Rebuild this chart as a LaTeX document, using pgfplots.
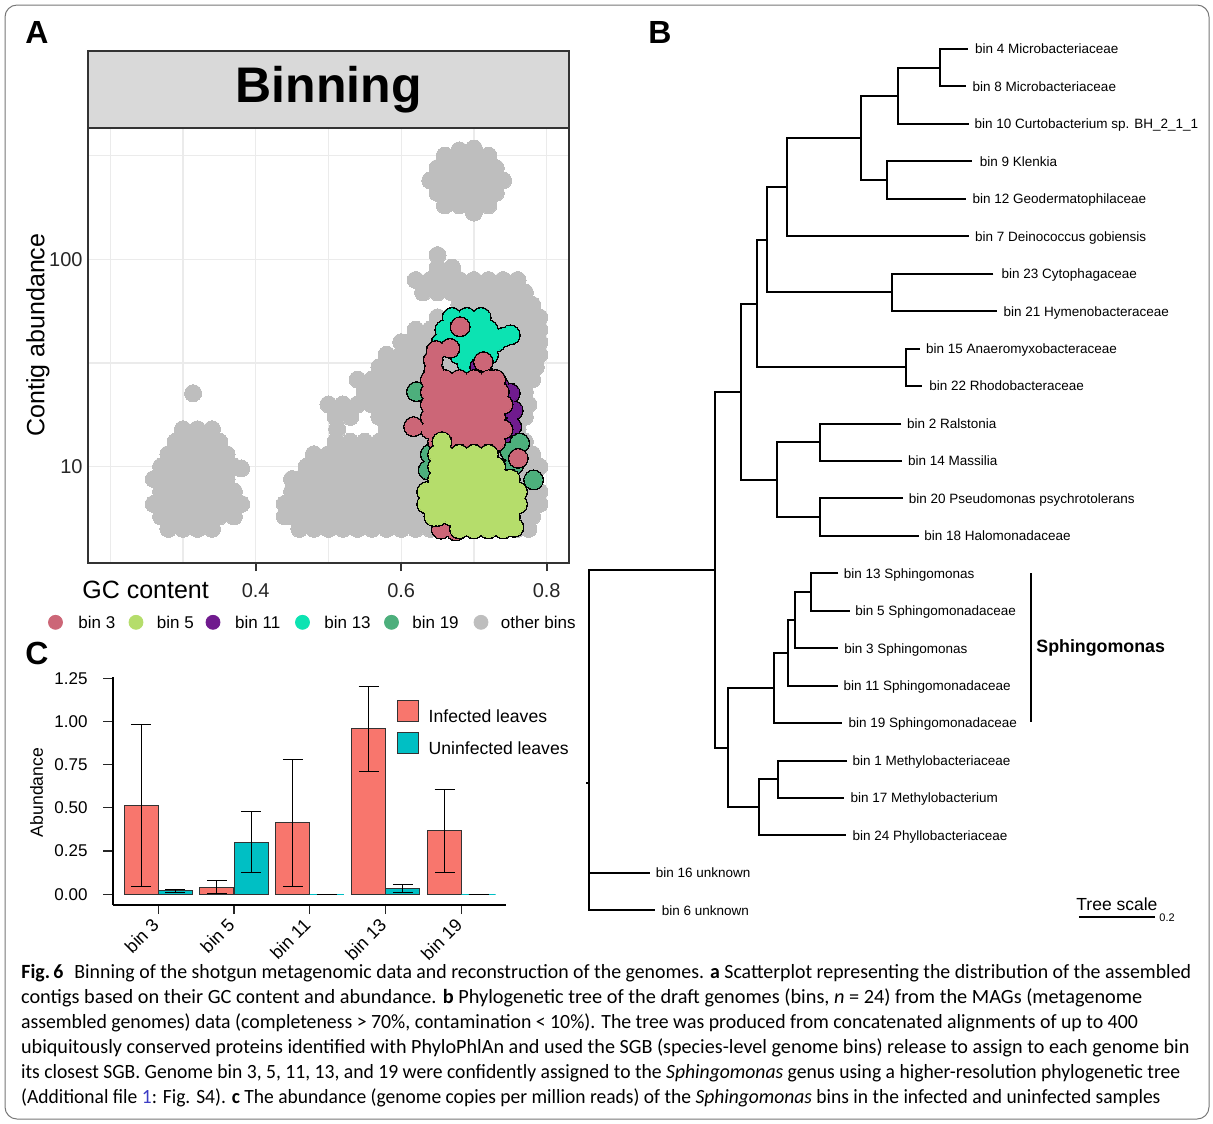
\documentclass[border=0pt]{standalone}
\usepackage{fontspec}
\setmainfont{Liberation Sans}
\newfontfamily\capfont{Carlito}
\usepackage{pgfplots}
\pgfplotsset{compat=1.18}
\definecolor{cthree}{HTML}{CC6677}
\definecolor{cfive}{HTML}{B5DD6B}
\definecolor{celeven}{HTML}{701B8E}
\definecolor{cthirteen}{HTML}{0CE3B2}
\definecolor{cnineteen}{HTML}{4DAF7C}
\definecolor{cgray}{HTML}{BEBEBE}
\definecolor{axgray}{HTML}{333333}
\definecolor{gridgray}{HTML}{EBEBEB}
\definecolor{stripgray}{HTML}{D9D9D9}
\definecolor{cinf}{HTML}{F8766D}
\definecolor{cuninf}{HTML}{00BFC4}
\definecolor{framegray}{HTML}{777777}
\definecolor{linkblue}{HTML}{3B3BC4}
\newcommand{\cluster}[2]{%
 \addplot[only marks, mark=*, mark size=5.0pt, mark options={fill=black, draw=black, line width=0pt}] coordinates {#2};
 \addplot[only marks, mark=*, mark size=4.3pt, mark options={fill=#1, draw=#1, line width=0pt}] coordinates {#2};
}
\newcommand{\treefont}{\fontsize{6.75}{8}\selectfont}
\newcommand{\legfont}{\fontsize{8.5}{10}\selectfont}
\newcommand{\cf}{\capfont\fontsize{10.1}{12}\selectfont}
\pgfplotsset{mylegbox/.style={legend image code/.code={\draw[##1, line width=0.5pt] (0pt,-2.2pt) rectangle (10.5pt,8.3pt);}}}
\begin{document}
\begin{tikzpicture}
%% ---------------- overlay (tree, labels, caption) ----------------
\begin{axis}[at={(0pt,0pt)}, anchor=north west, scale only axis,
  width=606.5pt, height=561.5pt, xmin=0, xmax=1213, ymin=0, ymax=1123,
  y dir=reverse, hide axis, clip=false]
\draw[framegray, line width=0.5pt, rounded corners=6pt] (5,5) rectangle (1209,1119);
% strip of panel A
\draw[fill=stripgray, draw=axgray, line width=1pt] (88,51) rectangle (569,128);
\node[anchor=base, inner sep=0pt, font=\fontsize{25}{30}\selectfont\bfseries] at (328.5,102) {Binning};
% panel letters
\node[anchor=base west, inner sep=0pt, font=\fontsize{16}{18}\selectfont\bfseries] at (25,43) {A};
\node[anchor=base west, inner sep=0pt, font=\fontsize{16}{18}\selectfont\bfseries] at (648,43) {B};
\node[anchor=base west, inner sep=0pt, font=\fontsize{16}{18}\selectfont\bfseries] at (25,664) {C};
% panel A labels
\node[anchor=base west, inner sep=0pt, font=\fontsize{12.5}{14}\selectfont] at (82,598.3) {GC content};
\node[rotate=90, inner sep=0pt, font=\fontsize{12.5}{14}\selectfont] at (38,335) {Contig abundance};
% panel A legend
\addplot[only marks, mark=*, mark size=3.5pt, color=cthree] coordinates {(55.5,622.3)};
\addplot[only marks, mark=*, mark size=3.5pt, color=cfive] coordinates {(136,622.3)};
\addplot[only marks, mark=*, mark size=3.5pt, color=celeven] coordinates {(213,622.3)};
\addplot[only marks, mark=*, mark size=3.5pt, color=cthirteen] coordinates {(302.5,622.3)};
\addplot[only marks, mark=*, mark size=3.5pt, color=cnineteen] coordinates {(391.5,622.3)};
\addplot[only marks, mark=*, mark size=3.5pt, color=cgray] coordinates {(481,622.3)};
\node[anchor=base west, inner sep=0pt, font=\legfont] at (78,628.3) {bin 3};
\node[anchor=base west, inner sep=0pt, font=\legfont] at (156.5,628.3) {bin 5};
\node[anchor=base west, inner sep=0pt, font=\legfont] at (234.8,628.3) {bin 11};
\node[anchor=base west, inner sep=0pt, font=\legfont] at (324,628.3) {bin 13};
\node[anchor=base west, inner sep=0pt, font=\legfont] at (412,628.3) {bin 19};
\node[anchor=base west, inner sep=0pt, font=\legfont] at (500.5,628.3) {other bins};
% panel C y label
\node[rotate=90, inner sep=0pt, font=\fontsize{8.8}{10}\selectfont] at (36.5,792.5) {Abundance};
% tree
\addplot[black, line width=1pt, line join=miter, unbounded coords=jump, mark=none] coordinates {
(967.5,49) (939.7,49) (939.7,86.45) (966.3,86.45) (nan,nan)
(939.7,67.73) (898,67.73) (898,123.9) (968.7,123.9) (nan,nan)
(971.5,161.35) (886.8,161.35) (886.8,198.8) (965.5,198.8) (nan,nan)
(898,95.8) (861,95.8) (861,180.08) (886.8,180.08) (nan,nan)
(861,137.94) (786.7,137.94) (786.7,236.25) (968.7,236.25) (nan,nan)
(993.3,273.7) (892,273.7) (892,311.15) (997.3,311.15) (nan,nan)
(786.7,187.1) (766.8,187.1) (766.8,292.43) (892,292.43) (nan,nan)
(919.8,348.6) (905.9,348.6) (905.9,386.05) (921.8,386.05) (nan,nan)
(766.8,239.76) (756.9,239.76) (756.9,367.33) (905.9,367.33) (nan,nan)
(901.3,423.5) (819.8,423.5) (819.8,460.95) (902.3,460.95) (nan,nan)
(903,498.4) (819.8,498.4) (819.8,535.85) (919.2,535.85) (nan,nan)
(819.8,442.2) (777.4,442.2) (777.4,517.1) (819.8,517.1) (nan,nan)
(756.9,303.54) (741,303.54) (741,479.7) (777.4,479.7) (nan,nan)
(838.3,573.3) (810.5,573.3) (810.5,610.75) (849.5,610.75) (nan,nan)
(810.5,592.0) (795.4,592.0) (795.4,648.2) (837.6,648.2) (nan,nan)
(795.4,620.1) (787.5,620.1) (787.5,685.65) (837.6,685.65) (nan,nan)
(787.5,652.9) (773.6,652.9) (773.6,723.1) (842.3,723.1) (nan,nan)
(847.1,760.55) (777.5,760.55) (777.5,798) (844.3,798) (nan,nan)
(777.5,779.3) (758.9,779.3) (758.9,835.45) (846.3,835.45) (nan,nan)
(773.6,688.0) (728.2,688.0) (728.2,807.4) (758.9,807.4) (nan,nan)
(741,391.6) (715.1,391.6) (715.1,747.7) (728.2,747.7) (nan,nan)
(715.1,569.6) (588.7,569.6) (588.7,910.35) (654.7,910.35) (nan,nan)
(588.7,872.9) (649.6,872.9) (nan,nan)
(586,783.3) (588.7,783.3)
};
\addplot[black, line width=1pt, mark=none] coordinates {(1031,573.3) (1031,721.7)};
\addplot[black, line width=1.2pt, mark=none] coordinates {(1078.8,916.7) (1155.1,916.7)};
\node[anchor=base west, inner sep=0pt, font=\fontsize{8.75}{10}\selectfont] at (1076,910) {Tree scale};
\node[anchor=base west, inner sep=0pt, font=\fontsize{5.5}{6}\selectfont] at (1159,921) {0.2};
\node[anchor=base west, inner sep=0pt, font=\fontsize{8.9}{10}\selectfont\bfseries] at (1036,652.4) {Sphingomonas};
% tree labels
\node[anchor=base west, inner sep=0pt, font=\treefont] at (974.7,53.85) {bin 4 Microbacteriaceae};
\node[anchor=base west, inner sep=0pt, font=\treefont] at (972.3,91.3) {bin 8 Microbacteriaceae};
\node[anchor=base west, inner sep=0pt, font=\treefont] at (974.3,128.75) {bin 10 Curtobacterium sp. BH\_2\_1\_1};
\node[anchor=base west, inner sep=0pt, font=\treefont] at (979.4,166.2) {bin 9 Klenkia};
\node[anchor=base west, inner sep=0pt, font=\treefont] at (972.3,203.65) {bin 12 Geodermatophilaceae};
\node[anchor=base west, inner sep=0pt, font=\treefont] at (974.7,241.1) {bin 7 Deinococcus gobiensis};
\node[anchor=base west, inner sep=0pt, font=\treefont] at (1001.3,278.55) {bin 23 Cytophagaceae};
\node[anchor=base west, inner sep=0pt, font=\treefont] at (1003.3,316.0) {bin 21 Hymenobacteraceae};
\node[anchor=base west, inner sep=0pt, font=\treefont] at (925.8,353.45) {bin 15 Anaeromyxobacteraceae};
\node[anchor=base west, inner sep=0pt, font=\treefont] at (929,390.9) {bin 22 Rhodobacteraceae};
\node[anchor=base west, inner sep=0pt, font=\treefont] at (906.6,428.35) {bin 2 Ralstonia};
\node[anchor=base west, inner sep=0pt, font=\treefont] at (907.7,465.8) {bin 14 Massilia};
\node[anchor=base west, inner sep=0pt, font=\treefont] at (908.4,503.25) {bin 20 Pseudomonas psychrotolerans};
\node[anchor=base west, inner sep=0pt, font=\treefont] at (923.9,540.7) {bin 18 Halomonadaceae};
\node[anchor=base west, inner sep=0pt, font=\treefont] at (843.5,578.15) {bin 13 Sphingomonas};
\node[anchor=base west, inner sep=0pt, font=\treefont] at (855,615.6) {bin 5 Sphingomonadaceae};
\node[anchor=base west, inner sep=0pt, font=\treefont] at (843.9,653.05) {bin 3 Sphingomonas};
\node[anchor=base west, inner sep=0pt, font=\treefont] at (843.1,690.5) {bin 11 Sphingomonadaceae};
\node[anchor=base west, inner sep=0pt, font=\treefont] at (848.3,727.95) {bin 19 Sphingomonadaceae};
\node[anchor=base west, inner sep=0pt, font=\treefont] at (852.3,765.4) {bin 1 Methylobacteriaceae};
\node[anchor=base west, inner sep=0pt, font=\treefont] at (850.3,802.85) {bin 17 Methylobacterium};
\node[anchor=base west, inner sep=0pt, font=\treefont] at (852.3,840.3) {bin 24 Phyllobacteriaceae};
\node[anchor=base west, inner sep=0pt, font=\treefont] at (655.5,877.75) {bin 16 unknown};
\node[anchor=base west, inner sep=0pt, font=\treefont] at (661.5,915.2) {bin 6 unknown};
% caption
\node[anchor=base west, inner sep=0pt, font=\cf] at (21,978.3) {\scalebox{0.982}[1]{\textbf{Fig.\,6}\hspace{0.55em}Binning of the shotgun metagenomic data and reconstruction of the genomes. \textbf{a} Scatterplot representing the distribution of the assembled}};
\node[anchor=base west, inner sep=0pt, font=\cf] at (20.7,1003.3) {\scalebox{1.006}[1]{contigs based on their GC content and abundance. \textbf{b} Phylogenetic tree of the draft genomes (bins, \textit{n} = 24) from the MAGs (metagenome}};
\node[anchor=base west, inner sep=0pt, font=\cf] at (20.7,1028.3) {\scalebox{0.98}[1]{assembled genomes) data (completeness > 70\%, contamination < 10\%). The tree was produced from concatenated alignments of up to 400}};
\node[anchor=base west, inner sep=0pt, font=\cf] at (20.7,1053.3) {\scalebox{0.998}[1]{ubiquitously conserved proteins identified with PhyloPhlAn and used the SGB (species-level genome bins) release to assign to each genome bin}};
\node[anchor=base west, inner sep=0pt, font=\cf] at (20.7,1078.3) {\scalebox{0.971}[1]{its closest SGB. Genome bin 3, 5, 11, 13, and 19 were confidently assigned to the \textit{Sphingomonas} genus using a higher-resolution phylogenetic tree}};
\node[anchor=base west, inner sep=0pt, font=\cf] at (20.7,1103.3) {\scalebox{0.966}[1]{(Additional file {\color{linkblue}1}: Fig. S4). \textbf{c} The abundance (genome copies per million reads) of the \textit{Sphingomonas} bins in the infected and uninfected samples}};
\end{axis}
%% ---------------- panel A ----------------
\begin{axis}[at={(44pt,-64pt)}, anchor=north west, scale only axis,
  width=240.5pt, height=217.5pt,
  xmin=0.1695, xmax=0.8307, ymode=log, ymin=3.43, ymax=429.5,
  xtick={0.4,0.6,0.8}, xticklabels={0.4,0.6,0.8},
  minor xtick={0.2,0.3,0.5,0.7},
  ytick={10,100}, yticklabels={10,100}, minor ytick={31.62,316.2},
  grid=both, major grid style={gridgray, line width=0.6pt}, minor grid style={gridgray, line width=0.6pt},
  axis line style={axgray, line width=1pt},
  xtick pos=left, ytick pos=left, tick align=outside,
  major tick length=4pt, minor tick length=0pt,
  xtick style={axgray, line width=1pt}, ytick style={draw=none},
  ticklabel style={font=\fontsize{10}{12}\selectfont, text=black!85},
  xticklabel style={yshift=-2.6pt}, yticklabel style={xshift=4.8pt},
  /pgf/number format/assume math mode=true]
\addplot[only marks, mark=*, mark size=4.25pt, color=cgray, mark options={fill=cgray, draw=cgray, line width=0pt}] coordinates {
(0.28,5.01)(0.30,5.01)(0.32,5.01)(0.34,5.01)
(0.27,5.75)(0.29,5.75)(0.31,5.75)(0.33,5.75)(0.35,5.75)(0.37,5.75)
(0.26,6.61)(0.28,6.61)(0.30,6.61)(0.32,6.61)(0.34,6.61)(0.36,6.61)(0.38,6.61)
(0.27,7.59)(0.29,7.59)(0.31,7.59)(0.33,7.59)(0.35,7.59)(0.37,7.59)
(0.26,8.71)(0.28,8.71)(0.30,8.71)(0.32,8.71)(0.34,8.71)(0.36,8.71)
(0.27,10)(0.29,10)(0.31,10)(0.33,10)(0.35,10)(0.37,10)(0.38,9.8)
(0.28,11.48)(0.30,11.48)(0.32,11.48)(0.34,11.48)(0.36,11.48)
(0.29,13.18)(0.31,13.18)(0.33,13.18)(0.35,13.18)
(0.30,15.14)(0.32,15.14)(0.34,15.14)
(0.314,22.6)
(0.46,5.01)(0.48,5.01)(0.50,5.01)(0.52,5.01)(0.54,5.01)(0.56,5.01)(0.58,5.01)(0.60,5.01)(0.62,5.01)(0.64,5.01)(0.66,5.01)(0.68,5.01)(0.70,5.01)(0.72,5.01)(0.74,5.01)(0.76,5.01)(0.775,5.01)
(0.44,5.75)(0.45,5.75)(0.47,5.75)(0.49,5.75)(0.51,5.75)(0.53,5.75)(0.55,5.75)(0.57,5.75)(0.59,5.75)(0.61,5.75)(0.63,5.75)(0.65,5.75)(0.67,5.75)(0.69,5.75)(0.71,5.75)(0.73,5.75)(0.75,5.75)(0.77,5.75)(0.78,5.75)
(0.44,6.61)(0.46,6.61)(0.48,6.61)(0.50,6.61)(0.52,6.61)(0.54,6.61)(0.56,6.61)(0.58,6.61)(0.60,6.61)(0.62,6.61)(0.64,6.61)(0.66,6.61)(0.68,6.61)(0.70,6.61)(0.72,6.61)(0.74,6.61)(0.76,6.61)(0.78,6.61)(0.79,6.61)
(0.45,7.59)(0.47,7.59)(0.49,7.59)(0.51,7.59)(0.53,7.59)(0.55,7.59)(0.57,7.59)(0.59,7.59)(0.61,7.59)(0.63,7.59)(0.65,7.59)(0.67,7.59)(0.69,7.59)(0.71,7.59)(0.73,7.59)(0.75,7.59)(0.77,7.59)(0.79,7.59)
(0.45,8.71)(0.46,8.71)(0.48,8.71)(0.50,8.71)(0.52,8.71)(0.54,8.71)(0.56,8.71)(0.58,8.71)(0.60,8.71)(0.62,8.71)(0.64,8.71)(0.66,8.71)(0.68,8.71)(0.70,8.71)(0.72,8.71)(0.74,8.71)(0.76,8.71)(0.78,8.71)
(0.47,10)(0.49,10)(0.51,10)(0.53,10)(0.55,10)(0.57,10)(0.59,10)(0.61,10)(0.63,10)(0.65,10)(0.67,10)(0.69,10)(0.71,10)(0.73,10)(0.75,10)(0.77,10)(0.79,10)
(0.48,11.48)(0.50,11.48)(0.52,11.48)(0.54,11.48)(0.56,11.48)(0.58,11.48)(0.60,11.48)(0.62,11.48)(0.64,11.48)(0.66,11.48)(0.68,11.48)(0.70,11.48)(0.72,11.48)(0.74,11.48)(0.76,11.48)(0.78,11.48)
(0.51,13.18)(0.53,13.18)(0.55,13.18)(0.57,13.18)(0.59,13.18)(0.61,13.18)(0.63,13.18)(0.65,13.18)(0.67,13.18)(0.69,13.18)(0.71,13.18)(0.73,13.18)(0.75,13.18)(0.77,13.18)
(0.512,15.14)(0.58,15.14)(0.60,15.14)(0.62,15.14)(0.64,15.14)(0.66,15.14)(0.68,15.14)(0.70,15.14)(0.72,15.14)(0.74,15.14)(0.76,15.14)
(0.51,17.38)(0.53,17.38)(0.57,17.38)(0.59,17.38)(0.61,17.38)(0.63,17.38)(0.65,17.38)(0.67,17.38)(0.69,17.38)(0.71,17.38)(0.73,17.38)(0.75,17.38)(0.77,17.38)
(0.50,19.95)(0.52,19.95)(0.54,19.95)(0.56,19.95)(0.58,19.95)(0.60,19.95)(0.62,19.95)(0.64,19.95)(0.66,19.95)(0.68,19.95)(0.70,19.95)(0.72,19.95)(0.74,19.95)(0.76,19.95)(0.775,19.95)
(0.55,22.91)(0.57,22.91)(0.59,22.91)(0.61,22.91)(0.63,22.91)(0.65,22.91)(0.67,22.91)(0.69,22.91)(0.71,22.91)(0.73,22.91)(0.75,22.91)(0.77,22.91)
(0.54,26.3)(0.56,26.3)(0.58,26.3)(0.60,26.3)(0.62,26.3)(0.64,26.3)(0.66,26.3)(0.68,26.3)(0.70,26.3)(0.72,26.3)(0.74,26.3)(0.76,26.3)(0.78,26.3)
(0.57,30.2)(0.59,30.2)(0.61,30.2)(0.63,30.2)(0.65,30.2)(0.67,30.2)(0.69,30.2)(0.71,30.2)(0.73,30.2)(0.75,30.2)(0.77,30.2)(0.785,30.2)
(0.58,34.67)(0.60,34.67)(0.62,34.67)(0.64,34.67)(0.66,34.67)(0.68,34.67)(0.70,34.67)(0.72,34.67)(0.74,34.67)(0.76,34.67)(0.78,34.67)(0.79,34.67)
(0.60,39.81)(0.61,39.81)(0.63,39.81)(0.65,39.81)(0.67,39.81)(0.69,39.81)(0.71,39.81)(0.73,39.81)(0.75,39.81)(0.77,39.81)(0.79,39.81)
(0.62,45.71)(0.64,45.71)(0.66,45.71)(0.68,45.71)(0.70,45.71)(0.72,45.71)(0.74,45.71)(0.76,45.71)(0.78,45.71)(0.79,45.71)
(0.65,52.48)(0.67,52.48)(0.69,52.48)(0.71,52.48)(0.73,52.48)(0.75,52.48)(0.77,52.48)(0.79,52.48)
(0.68,60.26)(0.70,60.26)(0.72,60.26)(0.74,60.26)(0.76,60.26)(0.78,60.26)
(0.63,69.18)(0.65,69.18)(0.67,69.18)(0.69,69.18)(0.71,69.18)(0.73,69.18)(0.75,69.18)(0.77,69.18)
(0.62,79.43)(0.64,79.43)(0.66,79.43)(0.68,79.43)(0.70,79.43)(0.72,79.43)(0.74,79.43)(0.76,79.43)
(0.65,91.2)(0.67,91.2)(0.65,104.7)
(0.70,168)
(0.66,182)(0.68,182)(0.70,182)(0.72,182)
(0.65,208.9)(0.67,208.9)(0.69,208.9)(0.71,208.9)(0.73,208.9)
(0.64,239.9)(0.66,239.9)(0.68,239.9)(0.70,239.9)(0.72,239.9)(0.74,239.9)
(0.65,275.4)(0.67,275.4)(0.69,275.4)(0.71,275.4)(0.73,275.4)
(0.66,316.2)(0.68,316.2)(0.70,316.2)(0.72,316.2)
(0.68,335)(0.70,342)
};
\cluster{cthirteen}{(0.67,52.48)(0.69,52.48)(0.71,52.48)(0.66,45.71)(0.68,45.71)(0.70,45.71)(0.72,45.71)(0.74,42)(0.75,43.2)(0.655,39.81)(0.67,39.81)(0.69,39.81)(0.71,39.81)(0.73,39.81)(0.68,34.67)(0.70,34.67)(0.72,34.67)(0.69,31.6)(0.71,31.6)}
\cluster{celeven}{(0.708,30.3)(0.72,26.7)(0.735,24.5)(0.75,22.6)(0.754,18.7)(0.752,15.6)(0.74,13.0)}
\cluster{cnineteen}{(0.621,23.0)(0.763,13.0)(0.782,8.63)(0.637,9.64)(0.64,11.5)(0.75,11.8)(0.755,10.2)}
\cluster{cthree}{(0.648,36.3)(0.644,32.7)(0.645,29.0)(0.681,47.3)(0.667,37.2)(0.713,32.1)
(0.64,26.3)(0.66,26.3)(0.68,26.3)(0.70,26.3)(0.72,26.3)(0.73,26.3)
(0.64,22.91)(0.65,22.91)(0.67,22.91)(0.69,22.91)(0.71,22.91)(0.73,22.91)(0.735,22.91)
(0.64,19.95)(0.66,19.95)(0.68,19.95)(0.70,19.95)(0.72,19.95)(0.74,19.95)
(0.64,17.38)(0.65,17.38)(0.67,17.38)(0.69,17.38)(0.71,17.38)(0.73,17.38)
(0.64,15.14)(0.66,15.14)(0.68,15.14)(0.70,15.14)(0.72,15.14)(0.74,15.14)
(0.65,13.18)(0.67,13.18)(0.69,13.18)(0.71,13.18)(0.73,13.18)
(0.617,15.6)(0.761,10.97)(0.655,5.0)(0.675,4.9)}
\cluster{cfive}{(0.656,13.2)
(0.65,11.48)(0.66,11.48)(0.68,11.48)(0.70,11.48)(0.72,11.48)
(0.65,10)(0.67,10)(0.69,10)(0.71,10)(0.73,10)
(0.65,8.71)(0.66,8.71)(0.68,8.71)(0.70,8.71)(0.72,8.71)(0.74,8.71)(0.75,8.71)
(0.635,7.59)(0.65,7.59)(0.67,7.59)(0.69,7.59)(0.71,7.59)(0.73,7.59)(0.75,7.59)(0.76,7.59)
(0.635,6.61)(0.64,6.61)(0.66,6.61)(0.68,6.61)(0.70,6.61)(0.72,6.61)(0.74,6.61)(0.76,6.61)
(0.645,5.75)(0.65,5.75)(0.67,5.75)(0.69,5.75)(0.71,5.75)(0.73,5.75)(0.75,5.75)
(0.68,5.01)(0.70,5.01)(0.72,5.01)(0.74,5.01)(0.755,5.1)}
\end{axis}
%% ---------------- panel C ----------------
\begin{axis}[at={(56.3pt,-338.35pt)}, anchor=north west, scale only axis,
  width=196.9pt, height=114.15pt,
  xmin=-0.6, xmax=4.59, ymin=-0.062, ymax=1.259,
  axis lines*=left, axis line style={black, line width=1pt, -},
  xtick={0,1,2,3,4}, xticklabels={bin 3,bin 5,bin 11,bin 13,bin 19},
  ytick={0,0.25,0.5,0.75,1,1.25}, yticklabels={0.00,0.25,0.50,0.75,1.00,1.25},
  tick align=outside, major tick length=4.6pt, tick style={black!85, line width=0.6pt},
  ticklabel style={font=\fontsize{8.5}{10}\selectfont},
  yticklabel style={xshift=-4.4pt},
  xticklabel style={rotate=45, anchor=north east, inner sep=0pt, font=\fontsize{9}{10}\selectfont, xshift=-3.5pt, yshift=1.8pt},
  legend style={at={(0.722,0.898)}, anchor=north west, draw=none, fill=none, inner sep=0pt,
    row sep=3.35pt, font=\fontsize{8.8}{10}\selectfont, nodes={inner sep=0pt},
    /tikz/every odd column/.append style={column sep=4.7pt}},
  legend cell align=left,
  /pgf/number format/assume math mode=true]
\addplot[ybar, bar width=17pt, bar shift=0pt, fill=cinf, draw=axgray, line width=0.5pt, mylegbox,
  error bars/.cd, y dir=both, y explicit, error bar style={black, line width=0.5pt},
  error mark options={rotate=90, black, mark size=5pt, line width=0.5pt}]
  coordinates {(-0.2243,0.515) +- (0,0.468) (0.7757,0.042) +- (0,0.038) (1.7757,0.415) +- (0,0.367) (2.7757,0.957) +- (0,0.245) (3.7757,0.368) +- (0,0.24)};
\addlegendentry{Infected leaves}
\addplot[ybar, bar width=17pt, bar shift=0pt, fill=cuninf, draw=axgray, line width=0.5pt, mylegbox,
  error bars/.cd, y dir=both, y explicit, error bar style={black, line width=0.5pt},
  error mark options={rotate=90, black, mark size=5pt, line width=0.5pt}]
  coordinates {(0.2243,0.021) +- (0,0.0078) (1.2243,0.301) +- (0,0.176) (3.2243,0.035) +- (0,0.022)};
\addlegendentry{Uninfected leaves}
\addplot[ybar, bar width=17pt, bar shift=0pt, fill=cuninf, draw=cuninf, line width=0.5pt, forget plot,
  error bars/.cd, y dir=both, y explicit, error bar style={black, line width=0.5pt},
  error mark options={rotate=90, black, mark size=5pt, line width=0.5pt}]
  coordinates {(2.2243,0) +- (0,0) (4.2243,0) +- (0,0)};
\end{axis}
\pgfresetboundingbox
\path[use as bounding box] (0pt,0pt) rectangle (606.5pt,-561.5pt);
\end{tikzpicture}
\end{document}
